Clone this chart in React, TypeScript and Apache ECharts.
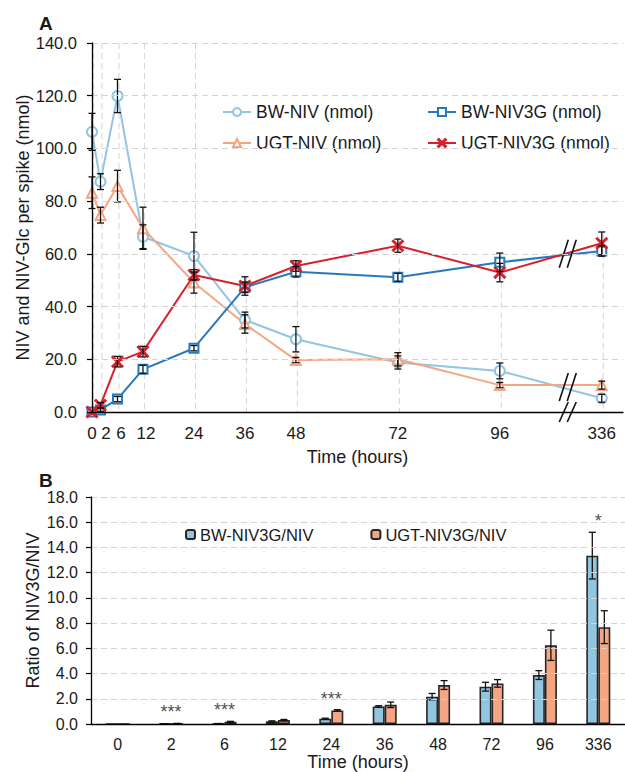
import React, { useEffect, useRef } from 'react';
import * as echarts from 'echarts';

// ---------- DATA ----------
const timeHours = [0, 2, 6, 12, 24, 36, 48, 72, 96, 336];
const timeCategories = ['0', '2', '6', '12', '24', '36', '48', '72', '96', '336'];

const bwNiv = [106.3, 87.4, 119.9, 66.5, 59.2, 34.9, 27.6, 18.8, 15.6, 5.2];
const bwNivErr = [7, 3, 6.3, 4.5, 9, 3, 4.8, 2.5, 3, 1.5];
const ugtNiv = [83.2, 74.7, 85.7, 69.7, 49.1, 33.4, 19.7, 20.0, 10.2, 10.2];
const ugtNivErr = [6, 3, 6, 8, 4, 3.5, 1, 2.5, 1, 1.5];
const bwNiv3g = [0, 0.8, 4.9, 16.2, 24.2, 47.3, 53.2, 51.1, 56.8, 61.1];
const bwNiv3gErr = [0, 0.5, 1, 1.5, 1, 2, 2, 1.5, 3.5, 2];
const ugtNiv3g = [0, 2.6, 19.1, 22.9, 52.0, 47.8, 55.4, 63.1, 52.9, 64.0];
const ugtNiv3gErr = [0, 1, 2, 2, 2, 3.5, 2, 2.5, 3.5, 4.3];
const dropLineTop = [140, 140, 140, 140, 140, 51, 57.5, 66, 60.5, 68];

const bwRatio = [0, 0.02, 0.03, 0.21, 0.42, 1.39, 2.17, 2.96, 3.88, 13.35];
const bwRatioErr = [0, 0.01, 0.01, 0.04, 0.04, 0.06, 0.25, 0.35, 0.35, 1.85];
const ugtRatio = [0, 0.04, 0.18, 0.31, 1.08, 1.52, 3.09, 3.22, 6.24, 7.68];
const ugtRatioErr = [0, 0.01, 0.03, 0.05, 0.06, 0.22, 0.35, 0.3, 1.2, 1.3];
const significance = ['', '***', '***', '', '***', '', '', '', '', '*'];

const topYTicks = [0, 20, 40, 60, 80, 100, 120, 140];
const bottomYTicks = [0, 2, 4, 6, 8, 10, 12, 14, 16, 18];

// broken time axis: 336 h is drawn at position 120, break at 112
const brokenHour = 336;
const brokenPos = 120;
const breakAt = 112;
const breakYs = [60, 9.5, 0];

const axisPos = (h: number) => (h === brokenHour ? brokenPos : h);

// ---------- STYLE ----------
const FONT = 'Liberation Sans, Arial, sans-serif';
const TXT = '#1a1a1a';
const GRID = '#d4d4d4';
const C_BWNIV = '#92c5e0';
const C_BW3G = '#2878bd';
const C_UGTNIV = '#f4a582';
const C_UGT3G = '#d7202e';
const C_BAR_BW = '#92c5de';
const C_BAR_UGT = '#f4a582';
const BAR_W = 12;
// left padding that spreads the crowded early tick labels (style only)
const labelPad: Record<string, number> = { '2': 11, '6': 7, '12': 6 };

const xSymbol =
  'path://M0,0.9L0.9,0L5,4.1L9.1,0L10,0.9L5.9,5L10,9.1L9.1,10L5,5.9L0.9,10L0,9.1L4.1,5Z';

function errLine(values: number[], errs: number[], xOf: (i: number) => number, xIdx: number, offset: number) {
  return {
    type: 'custom',
    xAxisIndex: xIdx,
    yAxisIndex: xIdx,
    z: 6,
    silent: true,
    data: values
      .map((v, i) => [xOf(i), Math.max(0, v - errs[i]), v + errs[i], errs[i]])
      .filter((d) => d[3] > 0),
    encode: { x: 0, y: [1, 2] },
    renderItem: (_p: any, api: any) => {
      const x = api.value(0);
      const hi = api.coord([x, api.value(2)]);
      const lo = api.coord([x, api.value(1)]);
      const cx = hi[0] + offset;
      const cap = 3.5;
      const st = { stroke: '#111', lineWidth: 1.3 };
      return {
        type: 'group',
        children: [
          { type: 'line', shape: { x1: cx, y1: hi[1], x2: cx, y2: lo[1] }, style: st },
          { type: 'line', shape: { x1: cx - cap, y1: hi[1], x2: cx + cap, y2: hi[1] }, style: st },
          { type: 'line', shape: { x1: cx - cap, y1: lo[1], x2: cx + cap, y2: lo[1] }, style: st },
        ],
      };
    },
  };
}

function lineSeries(name: string, values: number[], color: string, symbol: string, size: number) {
  return {
    name,
    type: 'line',
    xAxisIndex: 0,
    yAxisIndex: 0,
    z: 4,
    data: values.map((v, i) => [axisPos(timeHours[i]), v]),
    symbol,
    symbolSize: size,
    showAllSymbol: true,
    lineStyle: { color, width: 2 },
    itemStyle: { color, borderColor: color, borderWidth: 1.5 },
  };
}

export default function App() {
  const ref = useRef<HTMLDivElement>(null);

  useEffect(() => {
    document.body.style.margin = '0';
    if (!ref.current) return;
    const chart = echarts.init(ref.current, null, { renderer: 'svg' });

    const nameStyle = { color: TXT, fontFamily: FONT, fontSize: 18 };

    const legendCommon = {
      orient: 'horizontal',
      itemWidth: 28,
      itemHeight: 10,
      textStyle: { color: TXT, fontFamily: FONT, fontSize: 17.5 },
      selectedMode: false,
    };

    const rich: any = {};
    Object.keys(labelPad).forEach((k) => {
      rich['p' + k] = { color: TXT, fontFamily: FONT, fontSize: 17, padding: [0, 0, 0, labelPad[k]] };
    });

    const option: any = {
      animation: false,
      backgroundColor: '#ffffff',
      textStyle: { fontFamily: FONT },
      title: [
        { text: 'A', left: 34, top: 9, textStyle: { fontFamily: FONT, fontSize: 19, fontWeight: 'bold', color: TXT } },
        { text: 'B', left: 34, top: 466, textStyle: { fontFamily: FONT, fontSize: 19, fontWeight: 'bold', color: TXT } },
      ],
      legend: [
        { ...legendCommon, data: ['BW-NIV (nmol)'], left: 217, top: 98 },
        { ...legendCommon, data: ['BW-NIV3G (nmol)'], left: 422, top: 98 },
        { ...legendCommon, data: ['UGT-NIV (nmol)'], left: 217, top: 129 },
        { ...legendCommon, data: ['UGT-NIV3G (nmol)'], left: 422, top: 129 },
        {
          data: ['BW-NIV3G/NIV', 'UGT-NIV3G/NIV'],
          left: 180,
          top: 521,
          itemWidth: 9,
          itemHeight: 9,
          itemGap: 57,
          selectedMode: false,
          textStyle: { color: TXT, fontFamily: FONT, fontSize: 16.5 },
        },
      ],
      grid: [
        { left: 92, top: 43, width: 531, height: 369 },
        { left: 91, top: 497, width: 542, height: 229 },
      ],
      xAxis: [
        {
          gridIndex: 0,
          type: 'value',
          min: 0,
          max: 125,
          z: 10,
          axisLine: { show: true, lineStyle: { color: '#000', width: 1.3 } },
          axisTick: { show: false },
          splitLine: { show: false },
          axisLabel: {
            color: TXT,
            fontFamily: FONT,
            fontSize: 17,
            margin: 13,
            showMinLabel: true,
            showMaxLabel: true,
            hideOverlap: false,
            customValues: timeHours.map(axisPos),
            formatter: (v: number) => {
              const s = v === brokenPos ? String(brokenHour) : String(v);
              return labelPad[s] ? `{p${s}|${s}}` : s;
            },
            rich,
          },
          name: 'Time (hours)',
          nameLocation: 'middle',
          nameGap: 36,
          nameMoveOverlap: false,
          nameTextStyle: nameStyle,
        },
        {
          gridIndex: 1,
          type: 'category',
          data: timeCategories,
          z: 10,
          axisLine: { show: true, lineStyle: { color: '#000', width: 1.3 } },
          axisTick: { show: false },
          splitLine: { show: false },
          axisLabel: { color: TXT, fontFamily: FONT, fontSize: 16, margin: 12, interval: 0 },
          name: 'Time (hours)',
          nameLocation: 'middle',
          nameGap: 29,
          nameMoveOverlap: false,
          nameTextStyle: nameStyle,
        },
      ],
      yAxis: [
        {
          gridIndex: 0,
          type: 'value',
          min: topYTicks[0],
          max: topYTicks[topYTicks.length - 1],
          interval: 20,
          z: 10,
          axisLine: { show: true, lineStyle: { color: '#000', width: 1.3 } },
          axisTick: { show: true, inside: false, length: 5, lineStyle: { color: '#000', width: 1.2 } },
          splitLine: { show: true, lineStyle: { color: GRID, type: [6, 4], width: 1 } },
          axisLabel: { color: TXT, fontFamily: FONT, fontSize: 16.5, margin: 15, formatter: (v: number) => v.toFixed(1) },
          name: 'NIV and NIV-Glc per spike (nmol)',
          nameLocation: 'middle',
          nameGap: 60,
          nameMoveOverlap: false,
          nameTextStyle: nameStyle,
        },
        {
          gridIndex: 1,
          type: 'value',
          min: bottomYTicks[0],
          max: bottomYTicks[bottomYTicks.length - 1],
          interval: 2,
          z: 10,
          axisLine: { show: true, lineStyle: { color: '#000', width: 1.3 } },
          axisTick: { show: true, inside: false, length: 5, lineStyle: { color: '#000', width: 1.2 } },
          splitLine: { show: true, lineStyle: { color: GRID, type: [6, 4], width: 1 } },
          axisLabel: { color: TXT, fontFamily: FONT, fontSize: 16, margin: 13, formatter: (v: number) => v.toFixed(1) },
          name: 'Ratio of NIV3G/NIV',
          nameLocation: 'middle',
          nameGap: 49,
          nameMoveOverlap: false,
          nameTextStyle: nameStyle,
        },
      ],
      series: [
        // vertical dashed drop lines
        {
          type: 'custom',
          xAxisIndex: 0,
          yAxisIndex: 0,
          z: 1,
          silent: true,
          data: timeHours.map((h, i) => [axisPos(h), dropLineTop[i]]),
          encode: { x: 0, y: 1 },
          renderItem: (_p: any, api: any) => {
            const top = api.coord([api.value(0), api.value(1)]);
            const bot = api.coord([api.value(0), 0]);
            return {
              type: 'line',
              shape: { x1: top[0] + 1.5, y1: top[1], x2: bot[0] + 1.5, y2: bot[1] },
              style: { stroke: GRID, lineWidth: 1, lineDash: [6, 4] },
            };
          },
        },
        lineSeries('BW-NIV (nmol)', bwNiv, C_BWNIV, 'emptyCircle', 10),
        lineSeries('UGT-NIV (nmol)', ugtNiv, C_UGTNIV, 'emptyTriangle', 10),
        lineSeries('BW-NIV3G (nmol)', bwNiv3g, C_BW3G, 'emptyRect', 9),
        lineSeries('UGT-NIV3G (nmol)', ugtNiv3g, C_UGT3G, xSymbol, 11),
        errLine(bwNiv, bwNivErr, (i) => axisPos(timeHours[i]), 0, 0),
        errLine(ugtNiv, ugtNivErr, (i) => axisPos(timeHours[i]), 0, 0),
        errLine(bwNiv3g, bwNiv3gErr, (i) => axisPos(timeHours[i]), 0, 0),
        errLine(ugtNiv3g, ugtNiv3gErr, (i) => axisPos(timeHours[i]), 0, 0),
        // axis break marks
        {
          type: 'custom',
          xAxisIndex: 0,
          yAxisIndex: 0,
          z: 8,
          silent: true,
          clip: false,
          data: breakYs.map((y) => [breakAt, y]),
          encode: { x: 0, y: 1 },
          renderItem: (_p: any, api: any) => {
            const c = api.coord([api.value(0), api.value(1)]);
            const h = api.value(1) === 0 ? 10 : 14;
            const w = 4.5;
            const st = { stroke: '#111', lineWidth: 1.6 };
            return {
              type: 'group',
              children: [-4, 4].map((dx) => ({
                type: 'line',
                shape: { x1: c[0] + dx - w, y1: c[1] + h, x2: c[0] + dx + w, y2: c[1] - h },
                style: st,
              })),
            };
          },
        },
        // bars
        {
          name: 'BW-NIV3G/NIV',
          type: 'bar',
          xAxisIndex: 1,
          yAxisIndex: 1,
          data: bwRatio,
          barWidth: BAR_W,
          barGap: '0%',
          itemStyle: { color: C_BAR_BW, borderColor: '#262626', borderWidth: 1.6 },
        },
        {
          name: 'UGT-NIV3G/NIV',
          type: 'bar',
          xAxisIndex: 1,
          yAxisIndex: 1,
          data: ugtRatio,
          barWidth: BAR_W,
          barGap: '0%',
          itemStyle: { color: C_BAR_UGT, borderColor: '#262626', borderWidth: 1.6 },
        },
        errLine(bwRatio, bwRatioErr, (i) => i, 1, -BAR_W / 2),
        errLine(ugtRatio, ugtRatioErr, (i) => i, 1, BAR_W / 2),
        {
          type: 'scatter',
          xAxisIndex: 1,
          yAxisIndex: 1,
          symbolSize: 0,
          silent: true,
          z: 9,
          data: significance.map((s, i) => ({
            value: [i, Math.max(bwRatio[i] + bwRatioErr[i], ugtRatio[i] + ugtRatioErr[i])],
            label: {
              show: s !== '',
              formatter: s,
              position: 'top',
              distance: 2,
              color: TXT,
              fontFamily: FONT,
              fontSize: 18,
            },
          })),
        },
      ],
    };

    chart.setOption(option);
    return () => chart.dispose();
  }, []);

  return <div ref={ref} style={{ width: 625, height: 772 }} />;
}
